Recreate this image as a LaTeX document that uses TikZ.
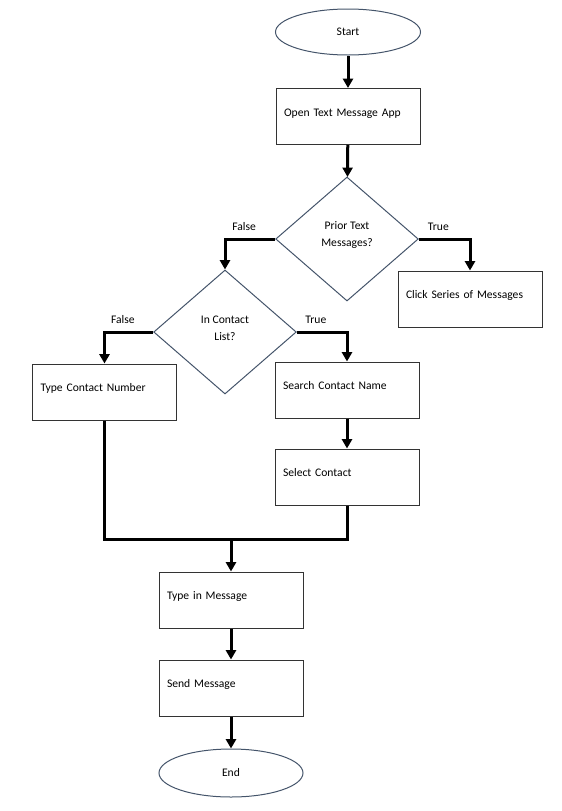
\documentclass[tikz,border=0pt]{standalone}
\usepackage{fontspec}
\setmainfont{Carlito}
\usepackage{tikz}
\usetikzlibrary{arrows.meta,shapes.geometric}

\definecolor{slate}{HTML}{44546A}

\begin{document}
\begin{tikzpicture}[x=0.75pt,y=-0.75pt,font=\fontsize{8.7}{12.75}\selectfont]
            \tikzstyle{box}=[rectangle,draw=black!80,line width=0.75pt,minimum width=108pt,minimum height=42pt,
              inner xsep=6pt,text width=96pt,align=left,text height=6pt,text depth=6.5pt]
            \tikzstyle{terminal}=[ellipse,draw=slate,line width=0.75pt,inner sep=0pt]
            \tikzstyle{decision}=[diamond,draw=slate,line width=0.75pt,inner sep=0pt,minimum width=107pt,minimum height=93pt]
            \tikzstyle{flow}=[line width=2.25pt,-{Triangle[width=7.5pt,length=7pt]}]
            \tikzstyle{link}=[line width=2.25pt]
            \tikzstyle{cond}=[above=2pt,pos=0.25,xshift=-4.5pt]

            \useasboundingbox (0,0) rectangle (561,811);

            \node[terminal,minimum width=108.75pt,minimum height=34.5pt] (start) at (348,32) {Start};
            \node[box] (open) at (348,116.5) {Open Text Message App};
            \node[decision,label={[align=center,yshift=3pt]center:Prior Text\\Messages?}] (prior) at (347,239) {};
            \node[decision,label={[align=center,yshift=3pt]center:In Contact\\List?}] (contact) at (225,332) {};

            \foreach \name/\x/\y/\txt in {click/470/299/Click Series of Messages, typenum/104.5/392/Type Contact Number,
                search/347/390/Search Contact Name, select/347/477/Select Contact,
                typemsg/231/600/Type in Message, send/231/688/Send Message}
              \node[box] (\name) at (\x,\y) {\txt};

            \node[terminal,minimum width=108pt,minimum height=36pt] (end) at (231,773) {End};
            \coordinate (join) at (231,539);

            \foreach \from/\to in {start/open, open/prior, search/select, join/typemsg, typemsg/send, send/end}
              \draw[flow] (\from) -- (\to);

            \draw[flow] (prior.west) -| (contact.north) node[cond] {False};
            \draw[flow] (prior.east) -| (click.north) node[cond] {True};
            \draw[flow] (contact.west) -| (typenum.north) node[cond] {False};
            \draw[flow] (contact.east) -| (search.north) node[cond] {True};
            \draw[link] (typenum.south) |- (join) -| (select.south);
        \end{tikzpicture}
\end{document}
